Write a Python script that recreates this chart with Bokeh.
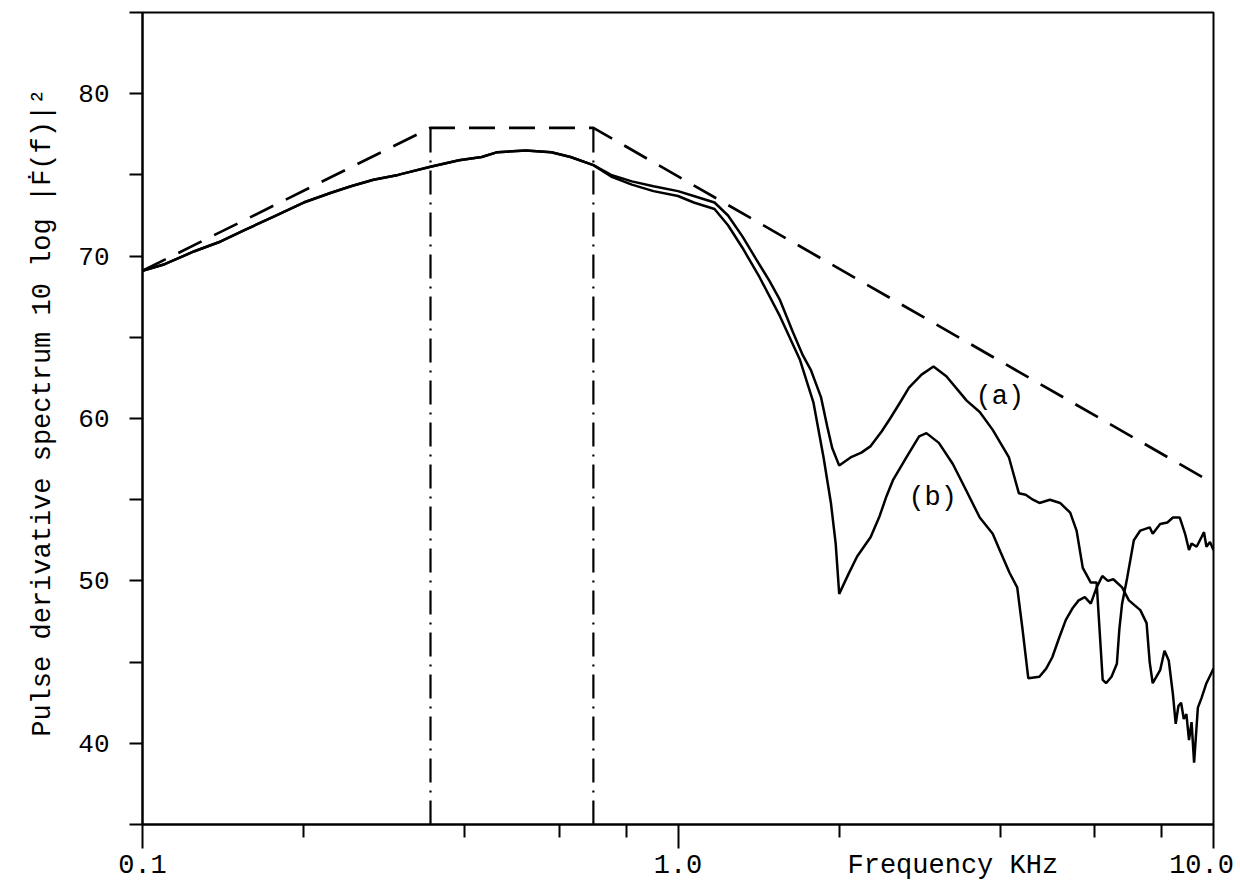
import math
from bokeh.plotting import figure
from bokeh.models import Range1d, FixedTicker, Label, LinearAxis, LogAxis
from bokeh.embed import file_html
from bokeh.resources import INLINE

# ---- data (frequency in kHz, level in dB) ----
freq_a = [0.100, 0.110, 0.125, 0.140, 0.155, 0.175, 0.200, 0.225, 0.245, 0.270,
          0.300, 0.345, 0.390, 0.430, 0.460, 0.520, 0.580, 0.630, 0.695, 0.750,
          0.820, 0.900, 1.000, 1.070, 1.170, 1.240, 1.320, 1.400, 1.480, 1.550,
          1.640, 1.710, 1.770, 1.850, 1.900, 1.940, 2.000, 2.100, 2.200, 2.290,
          2.400, 2.490, 2.600, 2.700, 2.850, 3.000, 3.170, 3.460, 3.660, 3.870,
          4.000, 4.150, 4.330, 4.460, 4.600, 4.730, 4.950, 5.170, 5.400, 5.550,
          5.700, 5.900, 6.050, 6.210, 6.300, 6.450, 6.600, 6.670, 6.750, 6.900,
          7.100, 7.300, 7.600, 7.700, 7.950, 8.200, 8.400, 8.650, 8.850, 9.000,
          9.100, 9.300, 9.500, 9.600, 9.700, 9.850, 10.00]
level_a = [69.1, 69.5, 70.3, 70.9, 71.6, 72.4, 73.3, 73.9, 74.3, 74.7,
           75.0, 75.5, 75.9, 76.1, 76.4, 76.5, 76.4, 76.1, 75.6, 75.0,
           74.6, 74.3, 74.0, 73.7, 73.3, 72.5, 71.2, 69.8, 68.5, 67.3,
           65.3, 63.9, 63.0, 61.3, 59.5, 58.2, 57.1, 57.6, 57.9, 58.3,
           59.2, 60.0, 61.0, 61.9, 62.7, 63.2, 62.6, 61.1, 60.4, 59.3,
           58.5, 57.6, 55.4, 55.3, 55.0, 54.8, 55.0, 54.8, 54.2, 53.1,
           50.8, 49.9, 49.9, 43.9, 43.7, 44.1, 44.9, 47.0, 48.6, 50.2,
           52.5, 53.1, 53.3, 52.9, 53.5, 53.6, 53.9, 53.9, 52.9, 51.9,
           52.3, 52.1, 52.7, 53.0, 52.1, 52.4, 51.9]

freq_b = [0.100, 0.110, 0.125, 0.140, 0.155, 0.175, 0.200, 0.225, 0.245, 0.270,
          0.300, 0.345, 0.390, 0.430, 0.460, 0.520, 0.580, 0.630, 0.695, 0.750,
          0.820, 0.900, 1.000, 1.070, 1.170, 1.240, 1.320, 1.420, 1.550, 1.690,
          1.790, 1.870, 1.930, 1.970, 2.000, 2.080, 2.160, 2.290, 2.380, 2.450,
          2.520, 2.670, 2.820, 2.910, 3.070, 3.260, 3.450, 3.660, 3.870, 4.000,
          4.160, 4.300, 4.400, 4.510, 4.730, 4.870, 5.000, 5.150, 5.300, 5.450,
          5.600, 5.750, 5.900, 6.050, 6.200, 6.350, 6.500, 6.750, 6.950, 7.300,
          7.500, 7.600, 7.700, 7.950, 8.100, 8.250, 8.400, 8.500, 8.600, 8.700,
          8.800, 8.900, 9.000, 9.100, 9.200, 9.350, 9.500, 9.700, 9.900, 10.00]
level_b = [69.1, 69.5, 70.3, 70.9, 71.6, 72.4, 73.3, 73.9, 74.3, 74.7,
           75.0, 75.5, 75.9, 76.1, 76.4, 76.5, 76.4, 76.1, 75.6, 74.9,
           74.4, 74.0, 73.7, 73.3, 72.9, 71.9, 70.5, 68.7, 66.3, 63.6,
           61.0, 57.6, 54.8, 52.3, 49.2, 50.4, 51.5, 52.7, 54.0, 55.2,
           56.2, 57.6, 58.9, 59.1, 58.5, 57.2, 55.6, 53.9, 52.9, 51.8,
           50.5, 49.6, 47.0, 44.0, 44.1, 44.6, 45.3, 46.5, 47.6, 48.3,
           48.8, 49.0, 48.6, 49.6, 50.3, 50.0, 50.1, 49.6, 48.8, 48.2,
           47.4, 45.0, 43.7, 44.5, 45.7, 45.1, 43.0, 41.2, 42.3, 42.5,
           41.5, 41.8, 40.2, 41.3, 38.8, 42.2, 42.8, 43.7, 44.3, 44.6]

envelope_freq = [0.100, 0.345, 0.695, 10.0]
envelope_level = [69.1, 77.9, 77.9, 56.0]

corner_freq = [0.345, 0.695]
corner_level = [77.9, 77.9]

x_major_ticks = [0.1, 1.0, 10.0]
x_minor_ticks = [0.2, 0.4, 0.6, 0.8, 2.0, 4.0, 6.0, 8.0]
x_tick_text = ["0.1", "1.0", "10.0"]
x_tick_text_pos = [0.1, 1.0, 9.5]      # where each tick label is centred
x_caption = "Frequency KHz"
x_caption_pos = 3.26                   # frequency at the caption's centre
y_major_ticks = [40, 50, 60, 70, 80]
y_minor_ticks = [35, 45, 55, 65, 75, 85]
y_caption = "Pulse derivative spectrum 10 log |\u1E1E(f)|\u00B2"
y_caption_pos = 61.5                   # level at which the caption is anchored

curve_labels = ["(a)", "(b)"]
curve_label_freq = [3.99, 2.99]
curve_label_level = [61.3, 55.1]

FONT = "Liberation Mono"

p = figure(width=1240, height=889, x_axis_type="log",
           x_range=Range1d(0.1, 10.0), y_range=Range1d(35, 85),
           output_backend="svg", toolbar_location=None,
           min_border_left=142, min_border_right=27,
           min_border_top=12, min_border_bottom=65)

p.background_fill_color = "white"
p.border_fill_color = "white"
p.outline_line_color = "black"
p.outline_line_width = 2
p.grid.visible = False

# x axis: tick marks only (labels not drawn)
xa = p.xaxis[0]
xa.ticker = FixedTicker(ticks=x_major_ticks, minor_ticks=x_minor_ticks)
xa.major_tick_out = 24
xa.major_tick_in = 0
xa.minor_tick_out = 13
xa.minor_tick_in = 0
xa.axis_line_width = 2
xa.major_tick_line_width = 2
xa.minor_tick_line_width = 2
xa.major_label_text_font_size = "1px"
xa.major_label_text_color = None
xa.major_label_standoff = 0

# x labels row (tick labels + caption)
x_labels = dict(zip(x_tick_text_pos, x_tick_text))
x_labels[x_caption_pos] = x_caption
xl = LogAxis(ticker=FixedTicker(ticks=x_tick_text_pos + [x_caption_pos], minor_ticks=[]),
             major_label_overrides=x_labels,
             axis_line_color=None, major_tick_line_color=None,
             minor_tick_line_color=None, major_tick_out=0, major_tick_in=0,
             major_label_text_font=FONT, major_label_text_font_size="27px",
             major_label_text_color="black", major_label_standoff=2)
p.add_layout(xl, "below")

# y axis
ya = p.yaxis[0]
ya.ticker = FixedTicker(ticks=y_major_ticks, minor_ticks=y_minor_ticks)
ya.major_tick_out = 13
ya.major_tick_in = 0
ya.minor_tick_out = 13
ya.minor_tick_in = 0
ya.axis_line_width = 2
ya.major_tick_line_width = 2
ya.minor_tick_line_width = 2
ya.major_label_text_font = FONT
ya.major_label_text_font_size = "26px"
ya.major_label_text_color = "black"
ya.major_label_standoff = 20

# y caption as an outer axis with a single label
yl = LinearAxis(ticker=FixedTicker(ticks=[y_caption_pos], minor_ticks=[]),
                major_label_overrides={y_caption_pos: y_caption},
                major_label_orientation=math.pi / 2,
                axis_line_color=None, major_tick_line_color=None,
                minor_tick_line_color=None, major_tick_out=0, major_tick_in=0,
                major_label_text_font=FONT, major_label_text_font_size="27px",
                major_label_text_color="black", major_label_standoff=32)
p.add_layout(yl, "left")

# curves
p.line(freq_a, level_a, line_color="black", line_width=2.5)
p.line(freq_b, level_b, line_color="black", line_width=2.5)

# asymptotic envelope
p.line(envelope_freq, envelope_level, line_color="black", line_width=2.7,
       line_dash="26 14")

# corner frequency markers
p.segment(x0=corner_freq, y0=[35, 35], x1=corner_freq, y1=corner_level,
          line_color="black", line_width=2.2, line_dash="24 8 2 8")

for t, fx, ly in zip(curve_labels, curve_label_freq, curve_label_level):
    p.add_layout(Label(x=fx, y=ly, text=t, text_font=FONT,
                       text_font_size="27px", text_align="center",
                       text_baseline="middle", text_color="black"))

open("out.html", "w").write(file_html(p, INLINE))
